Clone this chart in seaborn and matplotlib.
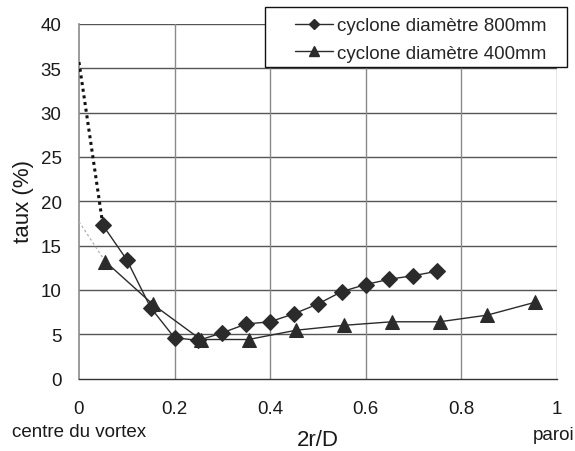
import matplotlib
matplotlib.use("Agg")
import matplotlib.pyplot as plt
from matplotlib.lines import Line2D
from matplotlib.patches import Rectangle
import matplotlib.transforms as mtransforms
import seaborn as sns
import pandas as pd

# Measured concentration profiles (taux, %) against dimensionless radius 2r/D
r_800 = [0.05, 0.10, 0.15, 0.20, 0.25, 0.30, 0.35, 0.40, 0.45, 0.50, 0.55, 0.60, 0.65, 0.70, 0.75]
taux_800 = [17.3, 13.4, 8.0, 4.6, 4.3, 5.15, 6.15, 6.4, 7.3, 8.4, 9.8, 10.6, 11.2, 11.6, 12.1]

r_400 = [0.055, 0.155, 0.255, 0.355, 0.455, 0.555, 0.655, 0.755, 0.855, 0.955]
taux_400 = [13.2, 8.35, 4.4, 4.4, 5.45, 6.0, 6.4, 6.4, 7.15, 8.6]

# Extrapolated values at the vortex centre (2r/D = 0)
centre_800 = 35.7
centre_400 = 17.7

labels = ["cyclone diamètre 800mm", "cyclone diamètre 400mm"]
x_ticks = [0, 0.2, 0.4, 0.6, 0.8, 1]
y_ticks = [0, 5, 10, 15, 20, 25, 30, 35, 40]

sns.set_style("white")
plt.rcParams["font.family"] = ["Liberation Sans", "DejaVu Sans"]

df_800 = pd.DataFrame({"r": r_800, "taux": taux_800})
df_400 = pd.DataFrame({"r": r_400, "taux": taux_400})

W, H = 575, 452
fig = plt.figure(figsize=(W / 100, H / 100), dpi=100)
ax = fig.add_axes([79 / W, 1 - 379.5 / H, (556.5 - 79) / W, (379.5 - 25) / H])

ink = "#2b2b2b"
txt = "#1a1a1a"
fs = 13.5

# Extrapolation towards the vortex centre
ax.plot([0, r_800[0]], [centre_800, taux_800[0]], color="#111111", lw=2.2,
        linestyle=(0, (1, 1.2)), solid_capstyle="butt", zorder=3)
ax.plot([0, r_400[0]], [centre_400, taux_400[0]], color="#b0b0b0", lw=0.9,
        linestyle=(0, (2, 2)), zorder=3)

sns.lineplot(data=df_800, x="r", y="taux", ax=ax, color=ink, lw=1.0,
             marker="D", markersize=8, markeredgecolor=ink, sort=False,
             legend=False, zorder=4)
sns.lineplot(data=df_400, x="r", y="taux", ax=ax, color=ink, lw=1.0,
             marker="^", markersize=10, markeredgecolor=ink, sort=False,
             legend=False, zorder=4)

ax.set_xlim(0, 1)
ax.set_ylim(0, 40)
ax.set_xticks(x_ticks)
ax.set_xticklabels([f"{v:g}" for v in x_ticks])
ax.set_yticks(y_ticks)
ax.set_yticklabels([f"{v:g}" for v in y_ticks])
ax.set_xlabel("")
ax.set_ylabel("")

# Grid: darker horizontal lines, lighter vertical lines
ax.grid(False)
for yv in y_ticks[1:]:
    ax.axhline(yv, color="#555555", lw=1.0, zorder=1)
for xv in x_ticks[1:]:
    ax.axvline(xv, color="#8a8a8a", lw=1.0, zorder=1)

for side in ["top", "right"]:
    ax.spines[side].set_visible(False)
ax.spines["left"].set_color("#8a8a8a")
ax.spines["left"].set_linewidth(1.2)
ax.spines["bottom"].set_color("#333333")
ax.spines["bottom"].set_linewidth(1.0)

ax.tick_params(axis="both", direction="inout", length=7, width=1.0,
               colors="#555555", labelcolor=txt, labelsize=fs)
ax.tick_params(axis="x", pad=12)
ax.tick_params(axis="y", pad=9)

# Extra captions under the axis ends
trans = mtransforms.blended_transform_factory(ax.transData, fig.transFigure)
ax.text(0, 1 - 433 / H, "centre du vortex", transform=trans, ha="center",
        va="center", fontsize=fs, color=txt)
fig.text(574.5 / W, 1 - 436 / H, "paroi", ha="right", va="center",
         fontsize=fs, color=txt)

fig.text(318 / W, 1 - 441 / H, "2r/D", ha="center", va="center",
         fontsize=16, color=txt)
fig.text(23 / W, 1 - 202 / H, "taux (%)", ha="center", va="center",
         rotation=90, fontsize=16, color=txt)

# Legend box with a wide left margin
box = Rectangle((265 / W, 1 - 68 / H), 302 / W, 60 / H, transform=fig.transFigure,
                facecolor="white", edgecolor="#111111", lw=1.0, zorder=4)
fig.patches.append(box)

handles = [
    Line2D([], [], color=ink, lw=1.0, marker="D", markersize=5.5),
    Line2D([], [], color=ink, lw=1.0, marker="^", markersize=7),
]
leg = fig.legend(handles, labels, loc="upper left",
                 bbox_to_anchor=(295 / W, 1 - 18 / H), frameon=False,
                 fontsize=fs, handlelength=2.0, handletextpad=0.25,
                 borderpad=0, labelspacing=0.56, borderaxespad=0)
leg.set_zorder(5)

fig.savefig("out.png", dpi=100)
